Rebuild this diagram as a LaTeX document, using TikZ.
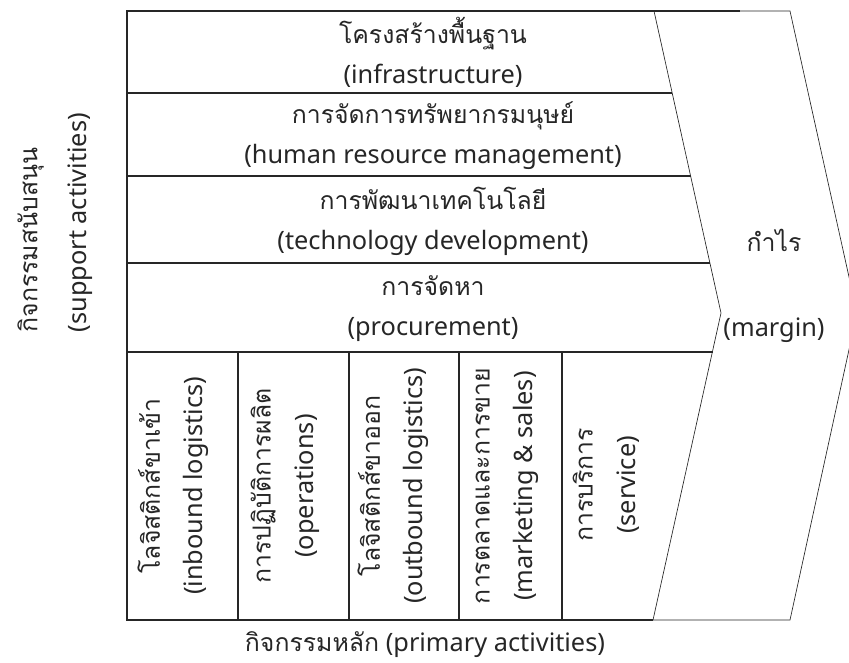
\documentclass[tikz,border=0pt]{standalone}
\usepackage{fontspec}
\setmainfont{Noto Sans}
\newfontfamily\thai[Script=Thai,Scale=0.98]{Loma}
\usepackage{tikz}

\begin{document}
\begin{tikzpicture}[x=0.75pt,y=-0.75pt,
        frame/.style={line width=1.4pt, draw=black!85},
        chevron/.style={line width=0.5pt, draw=black!85},
        label/.style={align=center, text=black!85, font=\fontsize{19}{30}\selectfont},
        vlabel/.style={label, rotate=90, font=\fontsize{19}{32}\selectfont}]
        \useasboundingbox (0,0) rectangle (849,663);
        % corners of the frame and the margin arrow
        \coordinate (tl) at (127,11);
        \coordinate (bl) at (127,620);
        \coordinate (tm) at (740,11);
        \coordinate (bm) at (653,620);
        \coordinate (ia) at (654,11);
        \coordinate (ib) at (721,313);
        \coordinate (oa) at (790,11);
        \coordinate (ob) at (857,313);
        \coordinate (oc) at (790,620);
        % support activities
        \node[label] (infra) at (433,52) {{\thai โครงสร้างพื้นฐาน}\\(infrastructure)};
        \node[label] (hrm) at (433,136) {{\thai การจัดการทรัพยากรมนุษย์}\\(human resource management)};
        \node[label] (tech) at (433,221) {{\thai การพัฒนาเทคโนโลยี}\\(technology development)};
        \node[label] (proc) at (433,309) {{\thai การจัดหา}\\(procurement)};
        \node[label] (margin) at (774,286) {{\thai กำไร}\\[1.8em](margin)};
        % primary activities
        \node[vlabel] (inlog) at (173,486) {{\thai โลจิสติกส์ขาเข้า}\\(inbound logistics)};
        \node[vlabel] (ops) at (285,486) {{\thai การปฏิบัติการผลิต}\\(operations)};
        \node[vlabel] (outlog) at (393,486) {{\thai โลจิสติกส์ขาออก}\\(outbound logistics)};
        \node[vlabel] (mkt) at (507,486) {{\thai การตลาดและการขาย}\\(marketing \& sales)};
        \node[vlabel] (serv) at (606,485) {{\thai การบริการ}\\(service)};
        \node[vlabel, anchor=west, align=left, font=\fontsize{19}{37}\selectfont] (support) at (55,337) {{\thai กิจกรรมสนับสนุน}\\(support activities)};
        \node[label] (primary) at (425,645) {{\thai กิจกรรมหลัก} (primary activities)};
        % frame
        \draw[frame] (tm) -- (tl) -- (bl) -- (bm);
        \draw[frame] (127,93) -- (672,93);
        \draw[frame] (127,176) -- (691,176);
        \draw[frame] (127,263) -- (710,263);
        \draw[frame] (127,352) -- (713,352);
        \draw[frame] (238,352) -- (238,620);
        \draw[frame] (349,352) -- (349,620);
        \draw[frame] (459,352) -- (459,620);
        \draw[frame] (562,352) -- (562,620);
        % margin arrow
        \draw[chevron] (tm) -- (oa) -- (ob) -- (oc) -- (bm);
        \draw[chevron] (ia) -- (ib) -- (bm);
    \end{tikzpicture}
\end{document}
